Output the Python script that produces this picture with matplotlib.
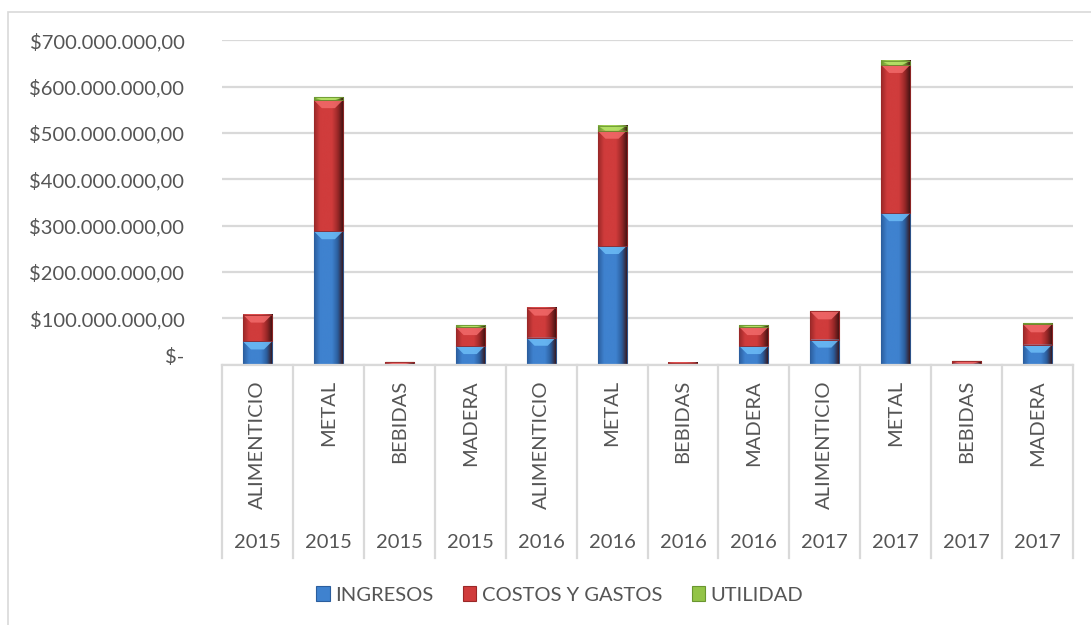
import matplotlib
matplotlib.use('Agg')
import matplotlib.pyplot as plt
import matplotlib.transforms as mtransforms
from matplotlib.colors import LinearSegmentedColormap
from matplotlib.patches import Polygon, Rectangle
from matplotlib.ticker import FuncFormatter
import numpy as np

plt.rcParams['font.family'] = ['Lato', 'DejaVu Sans']

# data (millions of pesos)
years = ['2015'] * 4 + ['2016'] * 4 + ['2017'] * 4
sectors = ['ALIMENTICIO', 'METAL', 'BEBIDAS', 'MADERA'] * 3
ingresos = [50, 288, 1.5, 40, 58, 256, 1.0, 40, 54, 327, 2.0, 43]
costos = [58, 283, 4.0, 41, 65, 249, 3.5, 41, 61, 320, 5.0, 44]
utilidad = [0, 6, 0, 4, 0, 11, 0, 4, 0, 9, 0, 2]
series_names = ['INGRESOS', 'COSTOS Y GASTOS', 'UTILIDAD']

# edge / centre / bevel colours per series
styles = [
    ('#2b5e9e', '#3f82cf', '#6cbcf7'),
    ('#9a2828', '#d03c3c', '#f26a6a'),
    ('#6a9630', '#93c447', '#b8e36a'),
]
txt = '#555555'
grid_c = '#d9d9d9'

fig = plt.figure(figsize=(10.91, 6.25), dpi=100)
ax = fig.add_axes([222 / 1091, 1 - 364.6 / 625, 851 / 1091, 324.2 / 625])

x = np.arange(len(sectors))
vals = [np.array(ingresos) * 1e6, np.array(costos) * 1e6, np.array(utilidad) * 1e6]
bottom = np.zeros(len(x))
containers = []
for v, (dark, mid, light), name in zip(vals, styles, series_names):
    bc = ax.bar(x, v, 0.41, bottom=bottom, color=mid, label=name, zorder=2,
                edgecolor=dark, linewidth=0.8)
    containers.append(bc)
    bottom = bottom + v

ax.set_xlim(-0.5, len(x) - 0.5)
ax.set_ylim(0, 700e6)

# pixel -> data scale for the bevel decoration
px_x = 12 / 851
px_y = 700e6 / 324.2

for bc, (dark, mid, light) in zip(containers, styles):
    cmap = LinearSegmentedColormap.from_list('g', [dark, mid, mid, mid, dark, '#3a1010'])
    grad = np.linspace(0, 1, 64).reshape(1, -1)
    for p in bc.patches:
        h = p.get_height()
        if h <= 0:
            continue
        x0, y0, w = p.get_x(), p.get_y(), p.get_width()
        ax.imshow(grad, extent=[x0, x0 + w, y0, y0 + h], aspect='auto',
                  cmap=cmap, clip_path=p, zorder=2.1, interpolation='bicubic')
        d = min(8 * px_y, h)
        ins = min(8 * px_x, w / 2)
        top = y0 + h
        ax.add_patch(Polygon([(x0, top), (x0 + w, top), (x0 + w - ins, top - d),
                              (x0 + ins, top - d)], closed=True,
                             facecolor=light, edgecolor='none', alpha=0.85, zorder=2.2))
        ax.add_patch(Rectangle((x0, y0), w, h, fill=False, edgecolor=dark,
                               lw=0.6, zorder=2.3))

ax.set_xlim(-0.5, len(x) - 0.5)
ax.set_ylim(0, 700e6)

# y axis
ax.set_yticks(np.arange(0, 701e6, 100e6))


def money(v, pos):
    if v == 0:
        return '$-'
    s = '{:,.0f}'.format(v).replace(',', '.')
    return '$' + s + ',00'


ax.yaxis.set_major_formatter(FuncFormatter(money))
ax.tick_params(axis='y', length=0, pad=27, labelsize=14.5, labelcolor=txt)
ax.yaxis.grid(True, color=grid_c, lw=1.6, zorder=0)
ax.set_axisbelow(True)
ylabels = ax.get_yticklabels()
off = mtransforms.ScaledTranslation(0, 0.09, fig.dpi_scale_trans)
ylabels[0].set_transform(ylabels[0].get_transform() + off)

for s in ['top', 'right', 'left']:
    ax.spines[s].set_visible(False)
ax.spines['bottom'].set_color(grid_c)
ax.spines['bottom'].set_linewidth(1.6)

# two level category axis
ax.set_xticks([])
trans = mtransforms.blended_transform_factory(ax.transData, ax.transAxes)
low = -(558 - 364.6) / 324.2
for b in np.arange(-0.5, len(x), 1.0):
    ax.plot([b, b], [0, low], color=grid_c, lw=1.6, transform=trans, clip_on=False)
for i in x:
    ax.text(i, -(380 - 364.6) / 324.2, sectors[i], rotation=90, ha='center', va='top',
            transform=trans, fontsize=14.5, color=txt)
    ax.text(i, -(543 - 364.6) / 324.2, years[i], ha='center', va='center',
            transform=trans, fontsize=14.5, color=txt)

# legend
leg = fig.legend(loc='center', bbox_to_anchor=(560 / 1091, 1 - 595 / 625), ncol=3,
                 frameon=False, fontsize=14.5, handlelength=0.65, handleheight=0.7,
                 handletextpad=0.3, columnspacing=1.45)
for t in leg.get_texts():
    t.set_color(txt)

# chart border
fig.patches.append(Rectangle((8 / 1091, -0.1), 1.2, 1 - 12 / 625 + 0.1, fill=False,
                             edgecolor=grid_c, lw=1.2, transform=fig.transFigure))

fig.savefig('out.png', dpi=100)
